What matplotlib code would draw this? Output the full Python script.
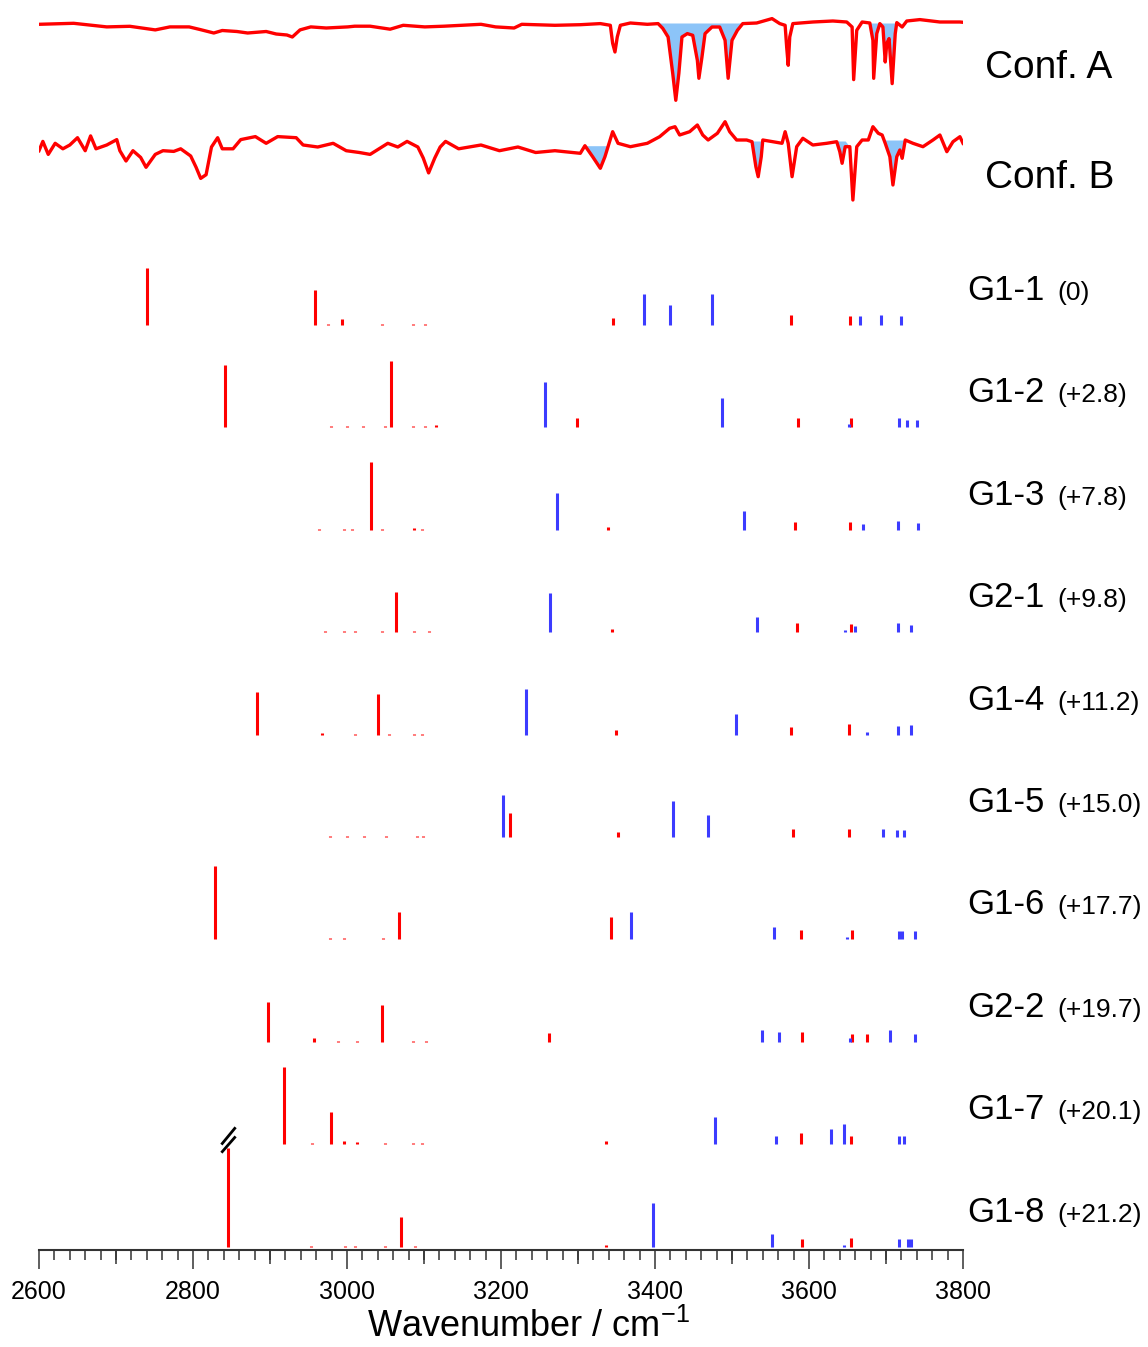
import numpy as np
import matplotlib
matplotlib.use('Agg')
import matplotlib.pyplot as plt
from matplotlib.path import Path

plt.rcParams['font.family'] = ['Liberation Sans', 'DejaVu Sans']
plt.rcParams['mathtext.fontset'] = 'custom'
plt.rcParams['mathtext.rm'] = 'Liberation Sans'
plt.rcParams['mathtext.default'] = 'regular'

# experimental spectra (wavenumber, signal relative to baseline)
conf_a_x = [2600, 2645, 2688, 2718, 2751, 2770, 2795, 2809, 2827, 2838, 2857, 2871, 2895, 2908,
            2922, 2929, 2939, 2953, 2973, 3001, 3010, 3030, 3056, 3073, 3101, 3126, 3174, 3193,
            3217, 3227, 3270, 3303, 3329, 3342, 3345, 3348, 3351, 3355, 3368, 3390, 3404, 3410,
            3417, 3423, 3427, 3431, 3435, 3442, 3449, 3455, 3457, 3461, 3465, 3474, 3484, 3491,
            3495, 3500, 3507, 3514, 3532, 3552, 3562, 3569, 3571, 3573, 3575, 3579, 3605, 3631,
            3649, 3656, 3658, 3662, 3669, 3679, 3683, 3684, 3688, 3692, 3696, 3699, 3701, 3704,
            3708, 3712, 3714, 3721, 3727, 3744, 3770, 3796, 3800]
conf_a_y = [-1.3, -0.3, -3.9, -3.3, -6.9, -3.9, -3.9, -6.5, -10, -7.5, -8.5, -10, -8.5, -11,
            -12, -14, -6.9, -3.9, -5, -3.9, -3.2, -3.2, -6.2, -2.3, -3.9, -3.2, -1.3, -3.9,
            -5, -1.3, -2.3, -1.7, -0.6, -2.3, -20.3, -29, -14, -2.3, 0, -1.3, -0.6, -5.3,
            -14, -50.3, -77.3, -50.3, -14, -10.6, -12.3, -37.3, -55.3, -34, -10.6, -4, -4, -17.3,
            -55.3, -17.3, -7.3, -0.6, 0, 4.4, -0.6, -2.3, -24, -42.3, -14, -0.6, 1, 2,
            1, -4, -56.6, -7.3, 1, 0, -17.3, -55.3, -10.6, -0.6, -4, -39, -20.3, -15.6,
            -60.6, -10.6, 0.4, -4, 2, 3.4, 1, 1, 0.7]

conf_b_x = [2600, 2605, 2612, 2621, 2631, 2640, 2650, 2660, 2667, 2674, 2688, 2701, 2705, 2713,
            2722, 2732, 2739, 2751, 2761, 2775, 2784, 2797, 2804, 2810, 2817, 2824, 2832, 2838,
            2852, 2862, 2881, 2895, 2910, 2934, 2943, 2962, 2982, 2999, 3016, 3030, 3053, 3066,
            3078, 3092, 3099, 3106, 3114, 3121, 3128, 3145, 3174, 3198, 3222, 3245, 3270, 3303,
            3309, 3319, 3329, 3335, 3339, 3345, 3352, 3368, 3390, 3406, 3419, 3426, 3432, 3445,
            3455, 3462, 3469, 3481, 3491, 3497, 3506, 3519, 3526, 3531, 3534, 3538, 3540, 3553,
            3565, 3569, 3573, 3578, 3584, 3592, 3605, 3623, 3636, 3640, 3643, 3647, 3653, 3657,
            3662, 3669, 3677, 3683, 3690, 3695, 3699, 3705, 3709, 3714, 3718, 3721, 3725, 3735,
            3748, 3761, 3770, 3779, 3787, 3796, 3800]
conf_b_y = [-5.7, 3.6, -9.4, 1.7, -3.8, 0, 7.3, -5.7, 9.1, -3.8, 0, 5.4, -5.7, -16,
            -5.7, -12.4, -22.3, -9.4, -5.7, -6.4, -3.8, -11, -22.3, -33.4, -29.7, -2, 7.3, -3.8,
            -3.8, 5.4, 8.4, 1.7, 8.4, 7.3, 0, -2, 1.7, -5.7, -7.5, -9.4, 1.7, -2,
            3.6, -2, -13, -27.9, -13, -2, 3.6, -3.8, 0, -5.7, -2, -7.5, -5.7, -8.3,
            -0.7, -11.7, -23.3, -11.7, -1.7, 13.3, 1.7, -1.7, 1.7, 8.3, 16.7, 18.3, 10, 13.3,
            20, 10, 5, 11.7, 23.3, 13.3, 5, 5, 3.3, -21.7, -31.7, -11.7, 5, 3.3,
            1.7, 13.3, 1.7, -31.7, -1.7, 6.7, 0, 1.7, 3.3, -6.7, -18.3, -1.7, -1.7, -55,
            -1.7, 5, 5, 18.3, 11.7, 10, 1.7, -11.7, -40, -11.7, -5, -13.3, 5, 1.7,
            -1.7, 5, 10, -6.7, 3.3, 8.3, 1.7]

# shaded bands: (start, end, level)
conf_a_fill = [(3404, 3514, 0), (3679, 3714, 0)]
conf_b_fill = [(3309, 3339, -0.7), (3526, 3540, 4), (3636, 3650, 4), (3699, 3725, 5)]

# calculated conformers
names = ['G1-1', 'G1-2', 'G1-3', 'G2-1', 'G1-4', 'G1-5', 'G1-6', 'G2-2', 'G1-7', 'G1-8']
energies = ['(0)', '(+2.8)', '(+7.8)', '(+9.8)', '(+11.2)', '(+15.0)', '(+17.7)', '(+19.7)',
            '(+20.1)', '(+21.2)']

red_freq = [
    [2740, 2958, 2975, 2994, 3012, 3046, 3086, 3101, 3114, 3346, 3577, 3653],
    [2842, 2979, 3000, 3021, 3050, 3057, 3086, 3101, 3116, 3299, 3586, 3654],
    [2963, 2996, 3007, 3031, 3046, 3087, 3097, 3339, 3582, 3653],
    [2972, 2996, 3011, 3046, 3064, 3087, 3106, 3344, 3585, 3654],
    [2883, 2968, 3011, 3040, 3054, 3087, 3097, 3349, 3577, 3652],
    [2978, 3000, 3022, 3051, 3091, 3099, 3212, 3352, 3579, 3652],
    [2828, 2978, 2996, 3016, 3047, 3068, 3097, 3106, 3343, 3590, 3656],
    [2897, 2957, 2988, 3013, 3046, 3086, 3103, 3262, 3591, 3656, 3675],
    [2918, 2955, 2979, 2996, 3013, 3049, 3086, 3097, 3336, 3590, 3654],
    [2845, 2953, 2997, 3010, 3049, 3070, 3088, 3336, 3591, 3655],
]
red_int = [
    [57, 35, 1, 6, 0.5, 1, 0.7, 0.7, 0.5, 7, 10, 9],
    [62, 1, 1, 1, 1, 66, 1, 1, 2, 9, 9, 9],
    [1, 1, 1, 68, 1, 1.5, 1, 3, 8, 8],
    [1, 1, 1, 1.5, 40, 1, 1, 3, 9, 8],
    [43, 1.5, 1, 41, 1, 1, 1, 5, 8, 11],
    [1, 1, 0.7, 1, 0.7, 0.7, 24, 5, 8, 8],
    [73, 1, 1, 0.7, 1, 27, 0.7, 0.7, 22, 9, 9],
    [40, 4, 1, 1, 37, 1, 1, 9, 10, 8, 8],
    [77, 1, 32, 3, 2, 1, 1, 1, 3, 11, 8],
    [99, 1, 1, 1, 1, 30, 1, 2, 8, 9],
]
blue_freq = [
    [3386, 3420, 3474, 3666, 3694, 3719],
    [3257, 3487, 3652, 3717, 3727, 3740],
    [3273, 3515, 3670, 3715, 3741],
    [3264, 3532, 3647, 3660, 3716, 3733],
    [3232, 3505, 3675, 3716, 3733],
    [3202, 3423, 3469, 3696, 3714, 3723],
    [3369, 3554, 3650, 3717, 3721, 3738],
    [3539, 3561, 3653, 3705, 3738],
    [3478, 3557, 3629, 3646, 3717, 3723],
    [3397, 3552, 3646, 3717, 3728, 3733],
]
blue_int = [
    [31, 20, 31, 9, 10, 9],
    [45, 29, 3, 9, 7, 7],
    [37, 19, 6, 9, 7],
    [39, 15, 2, 6, 9, 7],
    [46, 21, 3, 9, 10],
    [42, 36, 22, 8, 7, 7],
    [27, 12, 2, 8, 8, 8],
    [12, 10, 4, 12, 8],
    [27, 8, 15, 20, 8, 8],
    [44, 13, 2, 8, 8, 8],
]
broken_row = 9  # tallest stick of this row is cut

RED = '#ff0000'
BLUE = '#3c3cff'
FILL = '#8cc4f8'

fig = plt.figure(figsize=(11.48, 13.47), dpi=100)
ax = fig.add_axes([39 / 1148, 97 / 1347, 924 / 1148, 1250 / 1347])
ax.set_xlim(2600, 3800)
ax.set_ylim(0, 1250)

# experimental traces
for xs, ys, bands, off, lab_y, lab in [(conf_a_x, conf_a_y, conf_a_fill, 1227, 1172, 'Conf. A'),
                                       (conf_b_x, conf_b_y, conf_b_fill, 1105, 1062, 'Conf. B')]:
    xs = np.array(xs, float)
    ys = np.array(ys, float) + off
    for x0, x1, lev in bands:
        m = (xs >= x0) & (xs <= x1)
        ax.fill_between(xs, ys, off + lev, where=m & (ys <= off + lev), interpolate=True,
                        color=FILL, lw=0, zorder=1)
    ax.plot(xs, ys, color=RED, lw=2.4, zorder=2, solid_joinstyle='round')
    ax.text(3828, lab_y, lab, fontsize=28, va='baseline', ha='left')

# stick spectra
spacing = 102.4
for i in range(len(names)):
    base = 925 - i * spacing
    ax.vlines(red_freq[i], base, base + np.array(red_int[i]), color=RED, lw=2.2)
    ax.vlines(blue_freq[i], base, base + np.array(blue_int[i]), color=BLUE, lw=2.2)
    ax.text(3805, base + 25, names[i], fontsize=25, va='baseline', ha='left')
    ax.text(3922, base + 25, energies[i], fontsize=19, va='baseline', ha='left')
    if i == broken_row:
        k = int(np.argmax(red_int[i]))
        brk = Path([(-7, -4), (7, 13), (-7, -12), (7, 4)],
                   [Path.MOVETO, Path.LINETO, Path.MOVETO, Path.LINETO])
        ax.plot(red_freq[i][k], base + red_int[i][k] + 8, marker=brk, ms=19,
                mfc='none', mec='black', mew=2, clip_on=False)

# axis styling
for s in ['left', 'right', 'top']:
    ax.spines[s].set_visible(False)
ax.spines['bottom'].set_linewidth(1.5)
ax.spines['bottom'].set_color('#333333')
ax.set_yticks([])
ax.set_xticks(np.arange(2600, 3801, 200))
ax.set_xticks(np.arange(2600, 3801, 20), minor=True)
ax.tick_params(axis='x', which='major', direction='out', length=13.5, width=1.1,
               color='#333333', labelsize=18, pad=8)
ax.tick_params(axis='x', which='minor', direction='out', length=7.2, width=1.1, color='#333333')
sec = ax.secondary_xaxis('bottom')
sec.set_xticks(np.arange(2700, 3800, 200))
sec.set_xticklabels([])
sec.tick_params(direction='out', length=10, width=1.1, color='#333333')
sec.spines['bottom'].set_visible(False)
ax.set_xlabel('Wavenumber / cm$^{-1}$', fontsize=26)
ax.xaxis.set_label_coords(0.530, -0.047)

fig.savefig('out.png', dpi=100)
